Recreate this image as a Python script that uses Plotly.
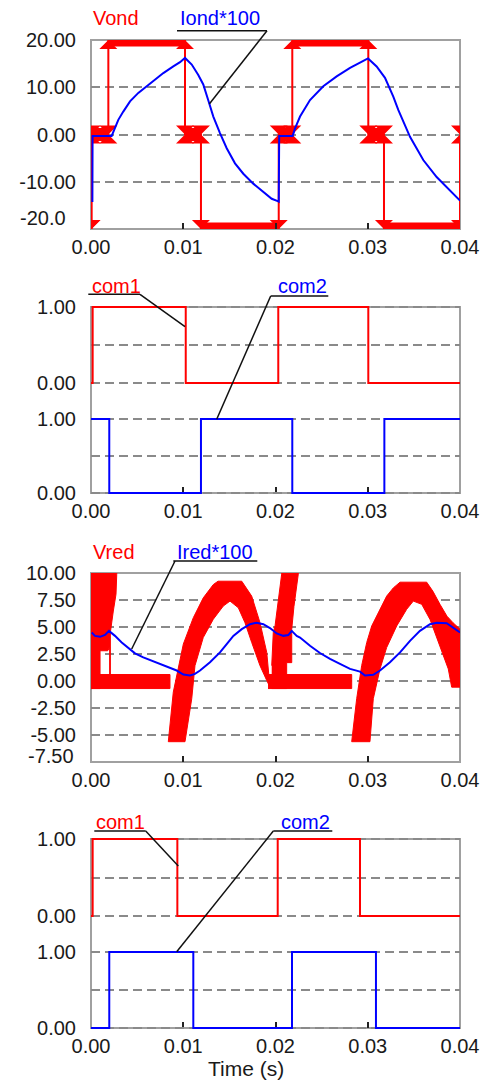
import plotly.graph_objects as go

W, H = 483, 1081
RED = "#ff0000"
BLUE = "#0000ff"
TXT = "#1a1a1a"
FONT = "Liberation Sans, Arial, sans-serif"

# ---------------- data (time in ms) ----------------
X_TICKS = [0.0, 0.01, 0.02, 0.03, 0.04]
X_TICKTEXT = ["0.00", "0.01", "0.02", "0.03", "0.04"]

# Panel 1 : Vond (step, value holds until next time) and Iond*100
VOND_T_MS = [0.0, 0.07, 1.88, 10.19, 11.92, 20.35, 21.82, 30.06, 31.76, 40.0]
VOND_V = [-20, 0, 20, 0, -20, 0, 20, 0, -20, 0]

IOND = [(0.15, -14.3), (0.17, -0.3), (2.24, -0.3), (2.60, 1.3), (2.96, 3.1), (3.50, 4.85),
        (4.23, 7.0), (5.13, 8.8), (6.04, 10.2), (6.94, 11.6), (7.84, 13.0), (8.92, 14.4),
        (9.65, 15.3), (10.19, 16.2), (10.92, 14.8), (11.63, 12.6), (12.17, 10.6), (12.72, 7.2),
        (13.26, 3.8), (13.98, 0.3), (14.71, -2.9), (15.61, -6.1), (16.51, -8.3), (17.59, -10.4),
        (18.68, -12.2), (19.59, -13.6), (20.24, -14.1), (20.35, -14.2), (20.40, -0.3),
        (21.86, -0.3), (22.12, 1.3), (22.66, 3.8), (23.74, 7.3), (25.18, 10.2), (26.63, 12.3),
        (28.08, 14.1), (29.52, 15.6), (30.03, 16.1), (30.96, 14.4), (31.87, 12.0), (32.77, 8.0),
        (33.31, 5.2), (34.58, -0.5), (36.02, -5.4), (37.47, -9.0), (38.92, -11.8), (40.0, -14.0)]
Y1_TICKS = [-20, -10, 0, 10, 20]
Y1_TICKTEXT = ["", "-10.00", "0.00", "10.00", "20.00"]

# Panel 2 : com1 / com2
COM1_A_T_MS = [0.0, 0.18, 10.27, 20.30, 30.06, 40.0]
COM1_A_V = [0, 1, 0, 1, 0, 0]
COM2_A_T_MS = [0.0, 1.98, 11.92, 21.82, 31.80, 40.0]
COM2_A_V = [1, 0, 1, 0, 1, 1]

# Panel 3 : Vred (envelope of the switching signal) and Ired*100
VRED_BAND_T0_MS = [0.0, 19.19]
VRED_BAND_T1_MS = [8.56, 28.26]
VRED_BAND_HI = [0.6, 0.6]
VRED_BAND_LO = [-0.7, -0.7]

VRED_SP1_HI = [(0.0, 11.0), (2.79, 11.0)]
VRED_SP1_LO = [(0.0, -0.7), (0.98, -0.7), (0.98, 2.8), (1.81, 2.8), (2.02, 3.1), (2.02, 0.0),
               (2.10, 0.0), (2.10, 4.5), (2.17, 4.94), (2.42, 6.48), (2.71, 8.04), (2.79, 9.88)]
VRED_SP2_HI = [(19.59, 1.42), (19.76, 4.5), (19.95, 5.1), (20.30, 7.6), (20.67, 9.9),
               (20.67, 11.0), (22.47, 11.0)]
VRED_SP2_LO = [(19.59, -0.7), (21.21, -0.7), (21.21, 1.7), (21.76, 1.7), (21.76, 4.8),
               (22.0, 6.9), (22.30, 8.8), (22.47, 9.9)]

VRED_H1_HI = [(8.38, -5.62), (8.92, -1.03), (10.01, 3.42), (11.09, 5.86), (12.17, 7.70),
              (13.26, 8.93), (13.77, 9.24), (16.34, 9.24), (17.42, 7.86), (18.32, 5.40),
              (19.05, 2.65), (19.40, -0.57)]
VRED_H1_LO = [(8.38, -5.62), (10.19, -5.62), (10.92, -1.64), (11.27, 1.42), (12.17, 4.03),
              (13.26, 5.72), (14.34, 6.94), (15.07, 7.40), (15.97, 6.78), (16.69, 5.40),
              (17.42, 3.57), (18.32, 1.42), (19.05, 0.05), (19.40, -0.57)]
VRED_H2_HI = [(28.26, -5.62), (28.80, -1.64), (29.34, 1.42), (29.89, 3.57), (30.43, 5.10),
              (31.33, 6.64), (32.05, 7.86), (32.77, 8.62), (33.50, 9.15), (36.39, 9.15),
              (37.07, 8.3), (37.83, 7.1), (38.59, 6.0), (39.24, 5.4), (40.0, 4.8)]
VRED_H2_LO = [(28.26, -5.62), (30.24, -5.62), (30.60, -1.64), (31.33, 1.12), (32.05, 3.1),
              (33.14, 5.1), (34.22, 6.64), (34.94, 7.4), (35.85, 7.1), (36.75, 5.7),
              (37.83, 3.26), (38.73, 1.12), (39.10, -0.57), (40.0, -0.57)]

IRED = [(0.08, 4.49), (0.43, 4.18), (0.98, 4.09), (1.52, 4.27), (1.95, 4.64), (2.60, 4.18),
        (3.33, 3.57), (4.04, 3.05), (4.77, 2.56), (5.67, 2.19), (6.58, 1.88), (7.48, 1.58),
        (8.38, 1.27), (9.29, 0.97), (10.01, 0.60), (10.73, 0.51), (11.27, 0.66), (11.82, 0.97),
        (12.90, 1.73), (13.98, 2.65), (14.71, 3.42), (15.43, 4.18), (16.34, 4.80), (17.24, 5.26),
        (17.96, 5.40), (18.68, 5.26), (19.40, 4.90), (20.13, 4.40), (20.85, 4.18), (21.39, 4.25),
        (21.76, 4.64), (22.30, 4.18), (22.66, 4.03), (23.74, 3.26), (24.82, 2.59), (25.91, 2.04),
        (26.99, 1.58), (28.08, 1.12), (29.16, 0.87), (29.70, 0.51), (30.60, 0.57), (31.33, 0.97),
        (32.41, 1.73), (33.50, 2.65), (34.58, 3.72), (35.66, 4.64), (36.75, 5.26), (37.47, 5.40),
        (38.56, 5.35), (39.27, 4.94), (40.0, 4.49)]
Y3_TICKS = [-7.5, -5, -2.5, 0, 2.5, 5, 7.5, 10]
Y3_TICKTEXT = ["", "-5.00", "-2.50", "0.00", "2.50", "5.00", "7.50", "10.00"]

# Panel 4 : com1 / com2
COM1_B_T_MS = [0.0, 0.18, 9.36, 20.24, 29.16, 40.0]
COM1_B_V = [0, 1, 0, 1, 0, 0]
COM2_B_T_MS = [0.0, 1.98, 11.09, 21.79, 30.89, 40.0]
COM2_B_V = [0, 1, 0, 1, 0, 0]
COM_TICKS = [0, 0.5, 1]
COM_TICKTEXT = ["0.00", "", "1.00"]


# ---------------- helpers ----------------
def s(vals):
    return [None if v is None else v / 1000.0 for v in vals]


def px(x):
    return x / W


def py(y):
    return 1 - y / H


def poly(hi, lo):
    pts = list(hi) + list(reversed(lo))
    return s([p[0] for p in pts]), [p[1] for p in pts]


fig = go.Figure()

# ---- panel 1 ----
bx, by, mx, my = [], [], [], []
for i in range(len(VOND_T_MS) - 1):
    a, b, v = VOND_T_MS[i], VOND_T_MS[i + 1], VOND_V[i]
    bx += [a, b, None]
    by += [v, v, None]
    mx += [a, b]
    my += [v, v]
mx.append(VOND_T_MS[-1])
my.append(VOND_V[-1])
fig.add_trace(go.Scatter(x=s(bx), y=by, mode="lines", line=dict(color=RED, width=13),
                         xaxis="x", yaxis="y", hoverinfo="skip"))
fig.add_trace(go.Scatter(x=s(mx), y=my, mode="markers",
                         marker=dict(symbol="hourglass", size=18, color=RED, line=dict(width=0)),
                         xaxis="x", yaxis="y", hoverinfo="skip"))
fig.add_trace(go.Scatter(x=s(VOND_T_MS), y=VOND_V, mode="lines", line_shape="hv",
                         line=dict(color=RED, width=2), xaxis="x", yaxis="y", name="Vond"))
fig.add_trace(go.Scatter(x=s([p[0] for p in IOND]), y=[p[1] for p in IOND], mode="lines",
                         line=dict(color=BLUE, width=2), xaxis="x", yaxis="y", name="Iond*100"))

# ---- panel 2 ----
fig.add_trace(go.Scatter(x=s(COM1_A_T_MS), y=COM1_A_V, mode="lines", line_shape="hv",
                         line=dict(color=RED, width=2), xaxis="x2", yaxis="y2", name="com1"))
fig.add_trace(go.Scatter(x=s(COM2_A_T_MS), y=COM2_A_V, mode="lines", line_shape="hv",
                         line=dict(color=BLUE, width=2), xaxis="x2", yaxis="y3", name="com2"))

# ---- panel 3 ----
for t0, t1, hi, lo in zip(VRED_BAND_T0_MS, VRED_BAND_T1_MS, VRED_BAND_HI, VRED_BAND_LO):
    fig.add_trace(go.Scatter(x=s([t0, t1, t1, t0]), y=[hi, hi, lo, lo], fill="toself",
                             fillcolor=RED, mode="lines", line=dict(color=RED, width=1),
                             xaxis="x3", yaxis="y4", hoverinfo="skip"))
for hi, lo in [(VRED_SP1_HI, VRED_SP1_LO), (VRED_SP2_HI, VRED_SP2_LO),
               (VRED_H1_HI, VRED_H1_LO), (VRED_H2_HI, VRED_H2_LO)]:
    xs, ys = poly(hi, lo)
    fig.add_trace(go.Scatter(x=xs, y=ys, fill="toself", fillcolor=RED, mode="lines",
                             line=dict(color=RED, width=1), xaxis="x3", yaxis="y4",
                             hoverinfo="skip"))
fig.add_trace(go.Scatter(x=s([p[0] for p in IRED]), y=[p[1] for p in IRED], mode="lines",
                         line=dict(color=BLUE, width=2), xaxis="x3", yaxis="y4", name="Ired*100"))

# ---- panel 4 ----
fig.add_trace(go.Scatter(x=s(COM1_B_T_MS), y=COM1_B_V, mode="lines", line_shape="hv",
                         line=dict(color=RED, width=2), xaxis="x4", yaxis="y5", name="com1"))
fig.add_trace(go.Scatter(x=s(COM2_B_T_MS), y=COM2_B_V, mode="lines", line_shape="hv",
                         line=dict(color=BLUE, width=2), xaxis="x4", yaxis="y6", name="com2"))

# ---------------- axes ----------------
X0, X1 = 91, 460
tickfont = dict(family=FONT, size=20, color=TXT)


def xax(**kw):
    d = dict(domain=[px(X0), px(X1)], range=[0, 0.04], tickvals=X_TICKS, ticktext=X_TICKTEXT,
             ticks="inside", ticklen=6, tickwidth=2, tickcolor="#222222", showgrid=False,
             zeroline=False, showline=False, tickfont=tickfont, ticklabelstandoff=4,
             fixedrange=True, automargin=False)
    d.update(kw)
    return d


def yax(top, bottom, rng, tv, tt, anchor):
    return dict(domain=[py(bottom), py(top)], range=rng, tickvals=tv, ticktext=tt, anchor=anchor,
                showgrid=True, gridcolor="#8a8a8a", gridwidth=1.8, griddash="9px,5px",
                zeroline=False, showline=False, ticks="", tickfont=tickfont,
                ticklabelstandoff=14, fixedrange=True, automargin=False)


def com_dom(y1px, y0px, pad=0.05):
    k = (y0px - y1px)
    return y1px - pad * k, y0px + pad * k


c1a = com_dom(307, 383)
c2a = com_dom(419, 493)
c1b = com_dom(839, 916)
c2b = com_dom(952, 1028)

layout = dict(
    width=W, height=H, margin=dict(l=0, r=0, t=0, b=0, pad=0, autoexpand=False),
    showlegend=False, paper_bgcolor="white", plot_bgcolor="rgba(0,0,0,0)",
    xaxis=xax(anchor="y"),
    xaxis2=xax(anchor="free", position=py(493)),
    xaxis3=xax(anchor="y4"),
    xaxis4=xax(anchor="free", position=py(1028)),
    yaxis=yax(40, 229, [-20, 20], Y1_TICKS, Y1_TICKTEXT, "x"),
    yaxis2=yax(c1a[0], c1a[1], [-0.05, 1.05], COM_TICKS, COM_TICKTEXT, "x2"),
    yaxis3=yax(c2a[0], c2a[1], [-0.05, 1.05], COM_TICKS, COM_TICKTEXT, "x2"),
    yaxis4=yax(573, 762, [-7.5, 10], Y3_TICKS, Y3_TICKTEXT, "x3"),
    yaxis5=yax(c1b[0], c1b[1], [-0.05, 1.05], COM_TICKS, COM_TICKTEXT, "x4"),
    yaxis6=yax(c2b[0], c2b[1], [-0.05, 1.05], COM_TICKS, COM_TICKTEXT, "x4"),
)

shapes = []
for top, bot in [(40, 229), (307, 493), (573, 762), (839, 1028)]:
    shapes.append(dict(type="rect", xref="paper", yref="paper", x0=px(X0), x1=px(X1),
                       y0=py(bot), y1=py(top), line=dict(color="#a0a0a0", width=2),
                       layer="below"))

leaders = [
    (177, 30.7, 267, 30.7), (267, 30.7, 209.3, 104),
    (88.3, 294.3, 140, 294.3), (140, 294.3, 185, 326.7),
    (270.7, 296, 328.3, 296), (270.7, 296, 216.7, 419.3),
    (173.3, 561, 257.3, 561), (175, 561, 131.7, 649),
    (94.3, 831, 145.7, 831), (145.7, 831, 178.3, 866),
    (273.3, 831, 332.3, 831), (273.3, 831, 176.7, 951.7),
]
for xa, ya, xb, yb in leaders:
    shapes.append(dict(type="line", xref="paper", yref="paper", x0=px(xa), y0=py(ya),
                       x1=px(xb), y1=py(yb), line=dict(color="#111111", width=1.5),
                       layer="above"))
layout["shapes"] = shapes


def ann(text, x, y, color, xanchor="center", size=20):
    return dict(text=text, x=px(x), y=py(y), xref="paper", yref="paper", showarrow=False,
                font=dict(family=FONT, size=size, color=color), xanchor=xanchor,
                yanchor="middle")


layout["annotations"] = [
    ann("Vond", 116, 18.3, RED), ann("Iond*100", 220, 18.3, BLUE),
    ann("com1", 116, 286, RED), ann("com2", 302.5, 286, BLUE),
    ann("Vred", 114, 551.7, RED), ann("Ired*100", 215, 551.7, BLUE),
    ann("com1", 120, 821.7, RED), ann("com2", 305.8, 821.7, BLUE),
    ann("Time (s)", 245.8, 1068.7, TXT, size=21),
    ann("-20.0", 68, 218, TXT, xanchor="right"),
    ann("-7.50", 76, 756, TXT, xanchor="right"),
]

fig.update_layout(**layout)
fig.write_html("out.html")
